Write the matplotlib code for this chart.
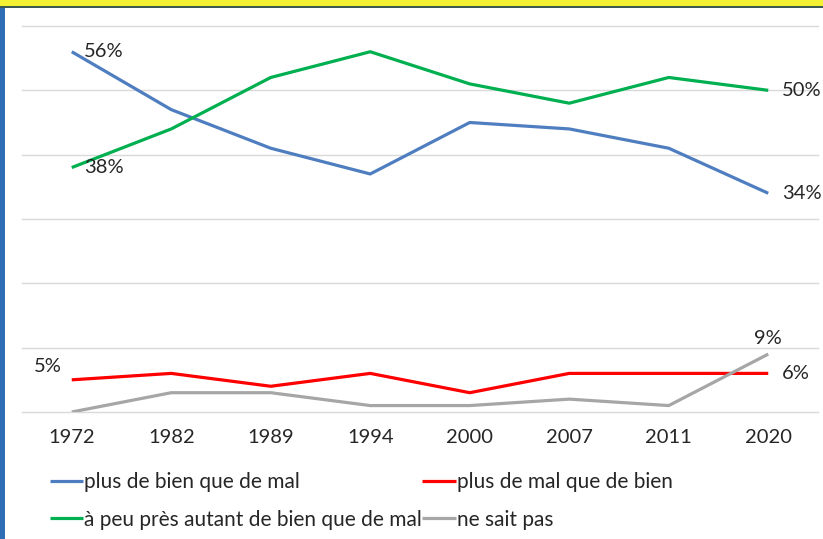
import matplotlib
matplotlib.use("Agg")
import matplotlib.pyplot as plt
from matplotlib.patches import Rectangle

plt.rcParams['font.family'] = ['Lato', 'DejaVu Sans']

# survey years and shares (%)
years = ["1972", "1982", "1989", "1994", "2000", "2007", "2011", "2020"]
plus_bien = [56, 47, 41, 37, 45, 44, 41, 34]
plus_mal = [5, 6, 4, 6, 3, 6, 6, 6]
autant = [38, 44, 52, 56, 51, 48, 52, 50]
ne_sait_pas = [0, 3, 3, 1, 1, 2, 1, 9]

labels = ["plus de bien que de mal", "plus de mal que de bien",
          "à peu près autant de bien que de mal", "ne sait pas"]
colors = ["#4F7EC0", "#FF0000", "#00B050", "#A6A6A6"]

W, H = 823, 539
fig = plt.figure(figsize=(W / 100, H / 100), dpi=100)
fig.patch.set_facecolor("white")

# decorative frame from the original slide
fig.patches.append(Rectangle((0, 0), 5 / W, 1 - 8 / H, transform=fig.transFigure,
                             facecolor="#2F6DB5", edgecolor="none"))
fig.patches.append(Rectangle((0, 1 - 6 / H), 1, 6 / H, transform=fig.transFigure,
                             facecolor="#F2F232", edgecolor="none"))
fig.patches.append(Rectangle((0, 1 - 8 / H), 1, 2 / H, transform=fig.transFigure,
                             facecolor="#3C5A50", edgecolor="none"))

ax = fig.add_axes([22 / W, (H - 412) / H, 796 / W, 386 / H])
x = list(range(len(years)))

series = [plus_bien, plus_mal, autant, ne_sait_pas]
handles = []
for vals, lab, col in zip(series, labels, colors):
    ln, = ax.plot(x, vals, color=col, lw=2.3, label=lab, solid_capstyle="butt")
    handles.append(ln)

ax.set_xlim(-0.5, len(years) - 0.5)
ax.set_ylim(0, 60)
ax.set_yticks(range(0, 61, 10))
ax.set_yticklabels([])
ax.grid(axis="y", color="#D9D9D9", lw=1)
for gl in ax.get_ygridlines():
    gl.set_clip_on(False)
ax.set_axisbelow(True)
for s in ax.spines.values():
    s.set_visible(False)
ax.tick_params(axis="y", length=0)
ax.set_xticks(x)
ax.set_xticklabels(years, fontsize=14.5, color="#262626")
ax.tick_params(axis="x", length=0, pad=12)

fs = 14.5
tc = "#262626"
def lab(xi, yi, txt, dx, dy, ha="left"):
    ax.annotate(txt, (xi, yi), xytext=(dx, dy), textcoords="offset pixels",
                ha=ha, va="center", fontsize=fs, color=tc)

last = len(years) - 1
lab(0, plus_bien[0], f"{plus_bien[0]}%", 12, 0)
lab(0, autant[0], f"{autant[0]}%", 12, 0)
lab(last, autant[-1], f"{autant[-1]}%", 14, 0)
lab(last, plus_bien[-1], f"{plus_bien[-1]}%", 14, 0)
lab(0, plus_mal[0], f"{plus_mal[0]}%", -10, 13, ha="right")
lab(last, plus_mal[-1], f"{plus_mal[-1]}%", 14, 0)
lab(last, ne_sait_pas[-1], f"{ne_sait_pas[-1]}%", 0, 16, ha="center")

# legend fills column-wise: blue, green | red, gray
order = [0, 2, 1, 3]
fig.legend(handles=[handles[i] for i in order], loc="upper left",
           bbox_to_anchor=(50 / W, 1 - 472 / H),
           ncol=2, frameon=False, fontsize=15, handlelength=1.6, handletextpad=0.05,
           columnspacing=0.0, labelspacing=0.85, borderpad=0, borderaxespad=0,
           labelcolor=tc)

fig.savefig("out.png", dpi=100)
